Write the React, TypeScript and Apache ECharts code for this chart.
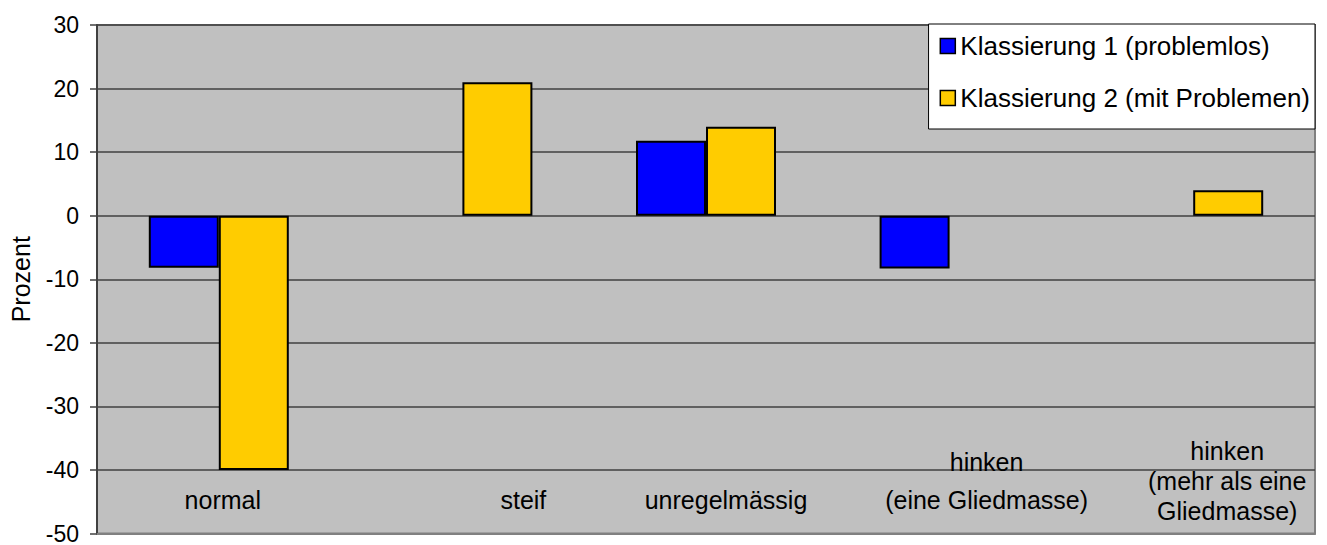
import React, { useEffect, useRef } from "react";
import * as echarts from "echarts";

const categories = [
  "normal",
  "steif",
  "unregelmässig",
  "hinken\n(eine Gliedmasse)",
  "hinken\n(mehr als eine\nGliedmasse)",
];
const seriesNames = ["Klassierung 1 (problemlos)", "Klassierung 2 (mit Problemen)"];
const klass1 = [-8.2, "-", 11.8, -8.3, "-"];
const klass2 = [-40, 21, 14, "-", 4];
const yMin = -50;
const yMax = 30;
const yStep = 10;

const FONT = "Liberation Sans, Arial, sans-serif";

export default function App() {
  const ref = useRef<HTMLDivElement>(null);
  useEffect(() => {
    if (!ref.current) return;
    const chart = echarts.init(ref.current, undefined, { renderer: "svg" });
    const labelPadTop = [49, 49, 49, 7, 0];
    const labelPadLeft = [8, 122, 40, 74, 68];
    const labelLH = [30, 30, 30, 38, 30];
    chart.setOption({
      animation: false,
      backgroundColor: "#ffffff",
      textStyle: { fontFamily: FONT },
      grid: {
        left: 97,
        right: 12,
        top: 25,
        bottom: 8,
        show: true,
        backgroundColor: "#c0c0c0",
        borderColor: "#808080",
        borderWidth: 2,
      },
      legend: {
        orient: "vertical",
        right: 12,
        top: 24,
        data: seriesNames,
        backgroundColor: "#ffffff",
        borderColor: "#000000",
        borderWidth: 1,
        padding: [9, 5, 18, 11],
        itemGap: 26,
        itemWidth: 15,
        itemHeight: 15,
        itemTextGap: 6,
        icon: "rect",
        itemStyle: { borderColor: "#000000", borderWidth: 1.5 },
        textStyle: { fontSize: 26, color: "#000000", fontFamily: FONT },
      },
      xAxis: {
        type: "category",
        data: categories.map((c, i) => ({
          value: c,
          textStyle: {
            padding: [labelPadTop[i], 0, 0, labelPadLeft[i]],
            lineHeight: labelLH[i],
          },
        })),
        position: "bottom",
        axisLine: { onZero: false, show: true, lineStyle: { color: "#808080", width: 2 } },
        axisTick: { show: false },
        axisLabel: {
          interval: 0,
          margin: -98,
          fontSize: 25,
          color: "#000000",
          fontFamily: FONT,
          align: "center",
          verticalAlign: "top",
          lineHeight: 30,
        },
        splitLine: { show: false },
      },
      yAxis: {
        type: "value",
        min: yMin,
        max: yMax,
        interval: yStep,
        name: "Prozent",
        nameLocation: "middle",
        nameGap: 64,
        nameTextStyle: { fontSize: 25, color: "#000000", fontFamily: FONT },
        axisLine: { show: true, lineStyle: { color: "#404040", width: 2 } },
        axisTick: { show: true, length: 7, lineStyle: { color: "#404040", width: 1.5 } },
        axisLabel: { fontSize: 23, color: "#000000", margin: 18, fontFamily: FONT },
        splitLine: { show: true, lineStyle: { color: "#404040", width: 1.5 } },
      },
      series: [
        {
          name: seriesNames[0],
          type: "bar",
          data: klass1,
          barWidth: 70,
          barGap: "0%",
          itemStyle: { color: "#0000ff", borderColor: "#000000", borderWidth: 2 },
        },
        {
          name: seriesNames[1],
          type: "bar",
          data: klass2,
          barWidth: 70,
          barGap: "0%",
          itemStyle: { color: "#ffcc00", borderColor: "#000000", borderWidth: 2 },
        },
      ],
    });
    return () => chart.dispose();
  }, []);
  return (
    <div
      ref={ref}
      style={{ position: "fixed", left: 0, top: 0, width: 1327, height: 545 }}
    />
  );
}
